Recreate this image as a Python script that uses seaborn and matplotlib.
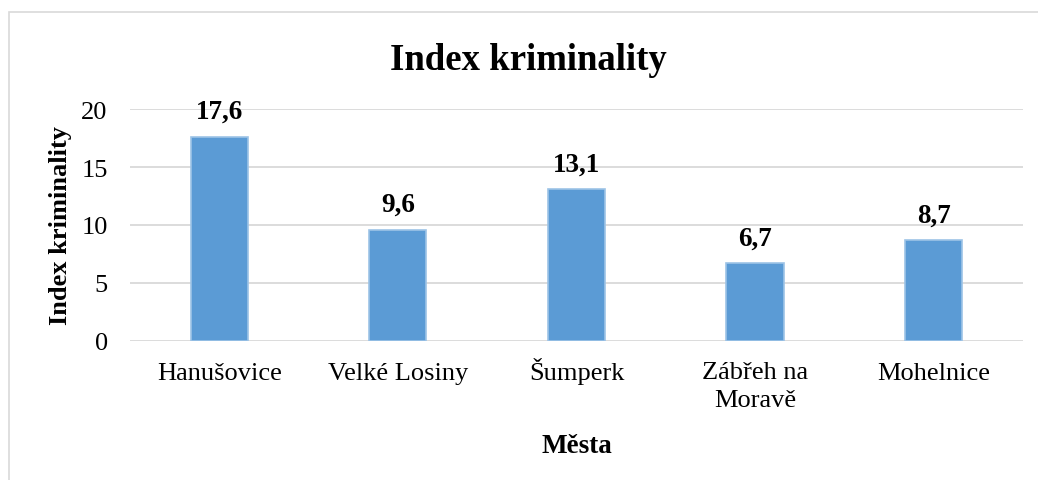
import matplotlib
matplotlib.use("Agg")
import matplotlib.pyplot as plt
import matplotlib.transforms as mtransforms
import seaborn as sns
import pandas as pd
from matplotlib.patches import Rectangle

mesta = ["Hanušovice", "Velké Losiny", "Šumperk", "Zábřeh na\nMoravě", "Mohelnice"]
index_kriminality = [17.6, 9.6, 13.1, 6.7, 8.7]
y_ticks = [0, 5, 10, 15, 20]

df = pd.DataFrame({"mesto": mesta, "index": index_kriminality})

sns.set_style("white")
plt.rcParams["font.family"] = ["Liberation Serif", "DejaVu Serif"]
plt.rcParams["text.color"] = "black"
plt.rcParams["axes.labelcolor"] = "black"
plt.rcParams["xtick.color"] = "black"
plt.rcParams["ytick.color"] = "black"

fig = plt.figure(figsize=(10.38, 4.81), dpi=100)
ax = fig.add_axes([0.1252, 0.289, 0.8603, 0.4823])

sns.barplot(data=df, x="mesto", y="index", ax=ax, color="#5B9BD5",
            width=0.32, edgecolor="#9DC3E6", linewidth=1.2, saturation=1)

ax.set_ylim(0, 20)
ax.set_yticks(y_ticks)
ax.set_xlim(-0.5, len(mesta) - 0.5)
ax.yaxis.grid(True, color="#D9D9D9", linewidth=1.3)
ax.set_axisbelow(True)
for s in ax.spines.values():
    s.set_visible(False)
ax.tick_params(axis="both", length=0, labelsize=19)
ax.tick_params(axis="y", pad=16)
ax.tick_params(axis="x", pad=27.5)
# baseline alignment so "Šumperk" sits on the same line as the others;
# two-line labels are shifted down so their first line shares the baseline
for lbl in ax.get_xticklabels():
    lbl.set_verticalalignment("baseline")
    lbl.set_linespacing(1.38)
    n_extra = lbl.get_text().count("\n")
    if n_extra:
        shift = mtransforms.ScaledTranslation(0, -0.27 * n_extra, fig.dpi_scale_trans)
        lbl.set_transform(lbl.get_transform() + shift)

for i, v in enumerate(index_kriminality):
    ax.text(i, v + 1.1, f"{v:.1f}".replace(".", ","), ha="center", va="bottom",
            fontsize=19.5, fontweight="bold")

ax.set_ylabel("Index kriminality", fontsize=19, fontweight="bold", labelpad=7)
ax.set_xlabel("Města", fontsize=19.5, fontweight="bold", labelpad=16)
fig.text(0.509, 0.874, "Index kriminality", ha="center", va="center",
         fontsize=26.5, fontweight="bold")

fig.patches.append(Rectangle((9 / 1038, -0.05), 1.2, 1 - 13 / 481 + 0.05,
                             transform=fig.transFigure, fill=False,
                             edgecolor="#D9D9D9", linewidth=1.2))

fig.savefig("out.png", dpi=100)
